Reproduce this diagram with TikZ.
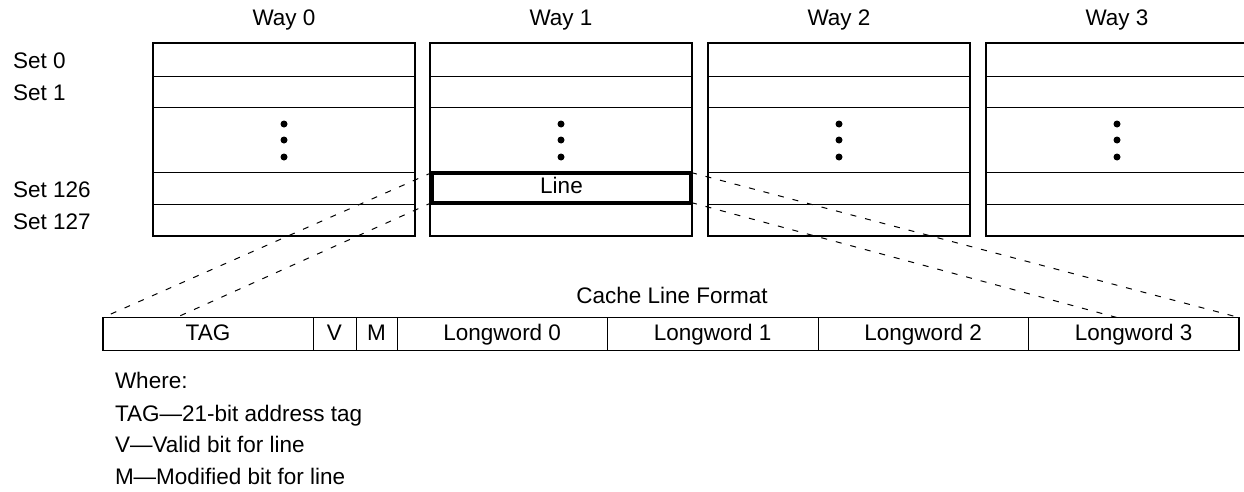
\documentclass[tikz,border=0pt]{standalone}
\usepackage{fontspec}
\setmainfont{Liberation Sans}
\usetikzlibrary{positioning,backgrounds}

\begin{document}
\begin{tikzpicture}[x=0.6pt,y=-0.6pt]
                \tikzstyle{every node}+=[inner sep=0pt, outer sep=0pt, text height=9.7pt, text depth=2pt, font=\fontsize{13.5}{16}\selectfont]
                \tikzstyle{cell}=[draw, fill=white, line width=0.6pt, minimum height=19.8pt]
                \tikzstyle{wide}=[cell, minimum width=126.3pt]
                \tikzstyle{proj}=[line width=0.6pt, dash pattern=on 3.6pt off 5.4pt]
                \useasboundingbox (0,0) rectangle (1244,492);
                \foreach \x/\n in {153/0,430/1,708/2,986/3} {
                    \draw [line width=1.2pt] (\x,43) rectangle ++(262,193);
                    \foreach \y in {76,107,172,204}
                        \draw [line width=0.6pt] (\x,\y) -- ++(262,0);
                    \foreach \y in {124,140,157}
                        \fill (\x+131,\y) circle (3.5);
                    \node (way\n) at (\x+131,19) {Way \n};
                }
                \node [anchor=west] (set0) at (13,62) {Set 0};
                \node [anchor=west] (set1) at (13,94) {Set 1};
                \node [anchor=west] (set126) at (13,191) {Set 126};
                \node [anchor=west] (set127) at (13,223) {Set 127};
                \node [draw, line width=2.4pt, minimum width=155.4pt, minimum height=18pt] (line) at (561.5,187.5) {Line};
                \node (format) at (672,297) {Cache Line Format};
                \node [cell, minimum width=126pt, anchor=west] (tag) at (103,334) {TAG};
                \node [cell, minimum width=25.8pt, right=0pt of tag] (v) {V};
                \node [cell, minimum width=24.6pt, right=0pt of v] (m) {M};
                \node [wide, right=0pt of m] (lw0) {Longword 0};
                \node [wide, right=0pt of lw0] (lw1) {Longword 1};
                \node [wide, right=0pt of lw1] (lw2) {Longword 2};
                \node [wide, right=0pt of lw2] (lw3) {Longword 3};
                \draw [line width=1pt] (tag.north west) rectangle (lw3.south east);
                \begin{scope}[on background layer]
                    \draw [proj] (line.north west) -- (tag.north west);
                    \draw [proj] (line.south west) -- (tag.south west);
                    \draw [proj] (line.north east) -- (lw3.north east);
                    \draw [proj] (line.south east) -- (lw3.south east);
                \end{scope}
                \node [anchor=west] (where) at (115,382) {Where:};
                \node [anchor=west] (keytag) at (115,415) {TAG\/---21-bit address tag};
                \node [anchor=west] (keyv) at (115,446) {V---Valid bit for line};
                \node [anchor=west] (keym) at (115,478) {M---Modified bit for line};
            \end{tikzpicture}
\end{document}
